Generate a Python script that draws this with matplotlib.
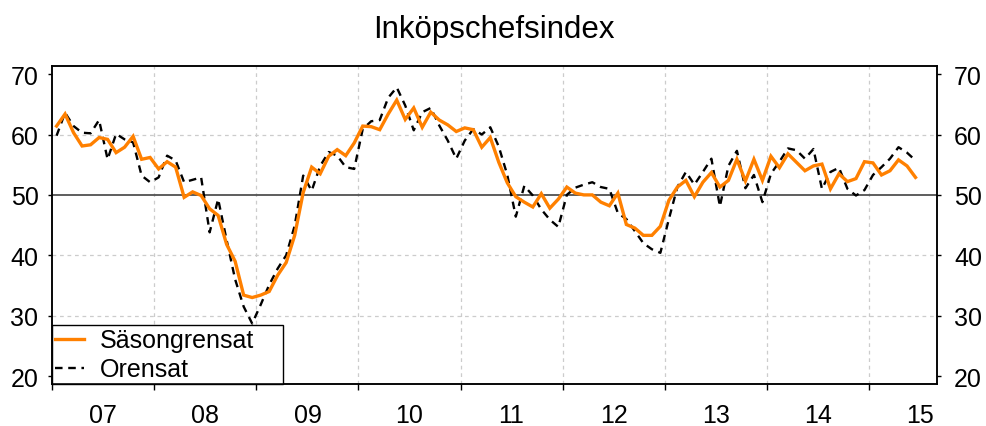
import matplotlib
matplotlib.use('Agg')
import matplotlib.pyplot as plt
import numpy as np
import pandas as pd

plt.rcParams['font.family'] = ['Liberation Sans', 'DejaVu Sans']

# månadsdata jan 2007 - jun 2015
months = pd.date_range('2007-01-01', periods=102, freq='MS')

sasongrensat = [
    61.4, 63.4, 60.3, 58.1, 58.3, 59.5, 59.2, 57.0, 57.9, 59.7, 55.9, 56.2,
    54.3, 55.5, 54.6, 49.6, 50.5, 49.9, 47.7, 46.6, 41.8, 39.0, 33.4, 33.0,
    33.4, 34.0, 36.7, 38.8, 43.3, 50.4, 54.6, 53.5, 56.4, 57.5, 56.5, 58.6,
    61.4, 61.3, 60.8, 63.4, 65.7, 62.5, 64.4, 61.2, 63.7, 62.4, 61.6, 60.5,
    61.1, 60.8, 57.9, 59.5, 55.4, 52.0, 49.7, 48.8, 48.0, 50.2, 47.8, 49.3,
    51.3, 50.3, 50.0, 50.0, 48.8, 48.2, 50.3, 45.1, 44.5, 43.3, 43.3, 44.8,
    49.1, 51.3, 52.4, 49.7, 52.1, 53.7, 51.3, 52.4, 55.9, 52.3, 55.9, 52.4,
    56.4, 54.5, 56.8, 55.4, 54.0, 54.8, 55.1, 51.0, 53.5, 52.2, 52.7, 55.5,
    55.3, 53.3, 54.0, 55.8, 54.8, 52.9,
]

orensat = [
    59.8, 63.6, 61.4, 60.3, 60.2, 62.4, 55.9, 60.1, 59.2, 58.7, 53.2, 52.1,
    52.9, 56.5, 55.7, 52.1, 52.5, 52.9, 43.8, 49.3, 42.5, 36.0, 31.5, 28.7,
    31.8, 35.1, 37.8, 40.0, 44.9, 53.2, 50.7, 54.8, 57.1, 56.5, 54.6, 54.3,
    60.9, 62.2, 62.4, 66.1, 67.8, 64.8, 60.7, 63.7, 64.4, 61.5, 59.0, 56.0,
    59.0, 60.9, 60.0, 61.2, 58.0, 53.3, 46.4, 51.5, 49.9, 47.6, 45.9, 44.7,
    50.0, 51.2, 51.7, 52.1, 51.3, 51.0, 47.0, 46.0, 44.0, 42.0, 41.0, 40.4,
    46.0, 51.3, 53.8, 51.7, 53.8, 56.0, 48.1, 54.8, 57.3, 51.1, 53.3, 48.8,
    53.5, 55.5, 57.7, 57.4, 56.0, 57.6, 51.0, 53.8, 54.5, 51.0, 49.9, 50.8,
    53.3, 54.6, 56.0, 57.9, 57.0, 55.7,
]

years = list(range(2007, 2016))
year_labels = ['07', '08', '09', '10', '11', '12', '13', '14', '15']
yticks = [20, 30, 40, 50, 60, 70]

x = months.year + (months.month - 0.5) / 12.0

fig = plt.figure(figsize=(9.87, 4.27), dpi=100)
ax = fig.add_axes([0.0530, 0.0972, 0.8961, 0.7452])

for yv in [30, 40, 60]:
    ax.axhline(yv, color='#cccccc', lw=0.9, ls=(0, (3, 3)), zorder=1)
for yr in years[1:]:
    ax.axvline(yr, color='#cccccc', lw=0.9, ls=(0, (3, 3)), zorder=1)
ax.axhline(50, color='#505050', lw=1.3, zorder=2)

ax.plot(x, sasongrensat, color='#FF8000', lw=2.4, label='Säsongrensat', zorder=4,
        solid_joinstyle='miter')
ax.plot(x, orensat, color='black', lw=1.7, ls=(0, (3.2, 2.4)), label='Orensat', zorder=3)

ax.set_xlim(2007, 2015 + 8 / 12)
ax.set_ylim(18.6, 71.3)

ax.set_xticks(years)
ax.set_xticklabels([])
ax.set_xticks([y + 0.5 for y in years], minor=True)
ax.set_xticklabels(year_labels, minor=True)
ax.tick_params(axis='x', which='major', direction='out', length=4, width=1)
ax.tick_params(axis='x', which='minor', length=0, labelsize=18, pad=13)

ax.set_yticks(yticks)
ax.tick_params(axis='y', direction='out', length=3, width=1, labelsize=18, pad=7)

ax2 = ax.twinx()
ax2.set_ylim(ax.get_ylim())
ax2.set_yticks(yticks)
ax2.tick_params(axis='y', direction='out', length=3, width=1, labelsize=18, pad=9.5)

for a in (ax, ax2):
    for s in a.spines.values():
        s.set_color('black')
        s.set_linewidth(1.1)

leg = ax.legend(loc='lower left', bbox_to_anchor=(0, 0, (283 - 52.3) / 884.4, 0.2),
                mode='expand', borderaxespad=0, fontsize=18, frameon=True,
                fancybox=False, edgecolor='black', framealpha=1,
                handlelength=1.15, handletextpad=0.65, labelspacing=0.2,
                borderpad=0.12)
leg.get_frame().set_linewidth(1.0)
leg.set_zorder(10)

fig.text(0.5005, 1 - 38 / 427, 'Inköpschefsindex', ha='center', va='baseline', fontsize=22.5)

fig.savefig('out.png', dpi=100)
